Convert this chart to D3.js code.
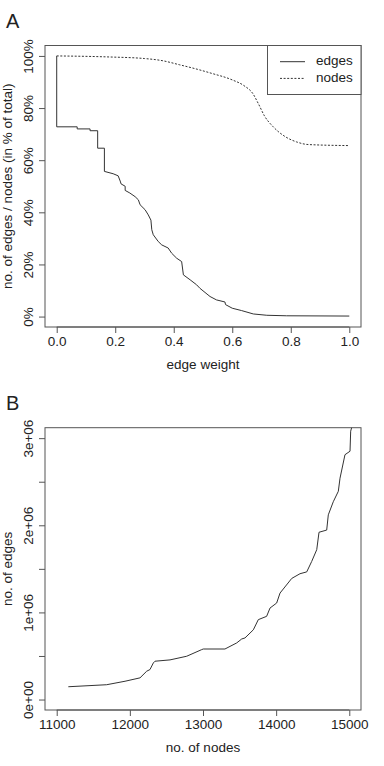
<!DOCTYPE html>
<html>
<head>
<meta charset="utf-8">
<script src="https://cdn.jsdelivr.net/npm/d3@7"></script>
<style>
  body { margin: 0; background: #fff; }
  text { font-family: "Liberation Sans", Arial, sans-serif; fill: #222; }
</style>
</head>
<body>
<div id="chart"></div>
<script>
// panel A: share of edges / nodes left after thresholding by edge weight
const edgeW = [0, 0, 0.07, 0.07, 0.114, 0.114, 0.14, 0.14, 0.163, 0.163, 0.193, 0.21, 0.217, 0.22, 0.234, 0.234,
  0.25, 0.268, 0.279, 0.285, 0.302, 0.313, 0.322, 0.325, 0.33, 0.347, 0.359, 0.381, 0.393, 0.41, 0.427, 0.433,
  0.456, 0.478, 0.49, 0.524, 0.546, 0.575, 0.577, 0.6, 0.632, 0.672, 0.718, 0.786, 1.0];
const edgePct = [100, 72.8, 72.8, 72.0, 72.0, 71.3, 71.3, 64.6, 64.6, 55.7, 54.8, 54.0, 52.0, 50.9, 50.0, 48.4,
  47.4, 46.0, 44.8, 42.9, 41.0, 39.0, 37.0, 33.3, 31.4, 28.8, 27.5, 26.3, 24.3, 22.4, 21.1, 16.0,
  14.1, 12.2, 10.8, 7.7, 6.4, 5.6, 4.6, 3.2, 2.3, 1.0, 0.5, 0.3, 0.2];
const nodeW = [0, 0.18, 0.3, 0.36, 0.42, 0.48, 0.53, 0.6, 0.64, 0.67, 0.69, 0.71, 0.74, 0.78, 0.82, 0.86, 1.0];
const nodePct = [100, 99.6, 99.0, 98.2, 96.6, 94.9, 93.3, 90.8, 88.6, 85.6, 81.5, 77.0, 72.8, 69.1, 67.0, 66.0, 65.6];
const pctTicks = [0, 20, 40, 60, 80, 100];
const wTicks = [0, 0.2, 0.4, 0.6, 0.8, 1.0];

// panel B: edges vs nodes
const bNodes = [11159, 11683, 11934, 12139, 12230, 12275, 12321, 12344, 12549, 12777, 12982, 13004, 13300,
  13461, 13529, 13574, 13688, 13756, 13870, 13916, 14007, 14053, 14213, 14326, 14418, 14486, 14555, 14586,
  14691, 14713, 14781, 14850, 14873, 14941, 15010, 15019, 15045];
const bEdges = [0.147, 0.17, 0.21, 0.249, 0.325, 0.344, 0.42, 0.44, 0.455, 0.497, 0.573, 0.58, 0.58,
  0.65, 0.695, 0.707, 0.8, 0.917, 0.955, 1.05, 1.108, 1.222, 1.39, 1.444, 1.465, 1.585, 1.72, 1.92,
  1.945, 2.12, 2.27, 2.39, 2.54, 2.81, 2.85, 3.08, 3.16].map(v => v * 1e6);
const nodeTicks = [11000, 12000, 13000, 14000, 15000];
const edgeTicks = [0, 5e5, 1e6, 1.5e6, 2e6, 2.5e6, 3e6];
const edgeLabels = ["0e+00", "", "1e+06", "", "2e+06", "", "3e+06"];

const W = 384, H = 766;
const svg = d3.select('#chart').append('svg').attr('width', W).attr('height', H);

const left = 45, right = 361;
const boxColor = '#555', lineColor = '#333';
const fs = 13.5;

// R-style 4% padding around data range
const pad = (lo, hi) => { const d = (hi - lo) * 0.04; return [lo - d, hi + d]; };

function panel(opts) {
  const g = svg.append('g');
  const x = d3.scaleLinear().domain(pad(...opts.xDom)).range([left, right]);
  const y = d3.scaleLinear().domain(pad(...opts.yDom)).range([opts.bottom, opts.top]);

  g.append('text').attr('x', 6).attr('y', opts.top - 18).attr('font-size', 20).text(opts.letter);

  g.append('rect').attr('x', left).attr('y', opts.top).attr('width', right - left)
    .attr('height', opts.bottom - opts.top).attr('fill', 'none').attr('stroke', boxColor);

  const xAxis = g.append('g').attr('transform', `translate(0,${opts.bottom})`)
    .call(d3.axisBottom(x).tickValues(opts.xTicks).tickSize(6).tickPadding(3).tickFormat(opts.xFmt));
  const yAxis = g.append('g').attr('transform', `translate(${left},0)`)
    .call(d3.axisLeft(y).tickValues(opts.yTicks).tickSize(6).tickPadding(3).tickFormat(opts.yFmt));
  [xAxis, yAxis].forEach(a => {
    a.select('.domain').remove();
    a.selectAll('line').attr('stroke', boxColor);
    a.selectAll('text').attr('font-size', fs).attr('fill', '#222').attr('font-family', '"Liberation Sans", Arial, sans-serif');
  });
  xAxis.append('line').attr('x1', x(opts.xTicks[0])).attr('x2', x(opts.xTicks[opts.xTicks.length - 1]))
    .attr('stroke', boxColor);
  yAxis.selectAll('.tick text')
    .attr('transform', 'rotate(-90)').attr('x', 0).attr('y', -16).attr('dy', null)
    .attr('text-anchor', 'middle').attr('dominant-baseline', 'middle');

  g.append('text').attr('x', (left + right) / 2).attr('y', opts.bottom + 42)
    .attr('text-anchor', 'middle').attr('font-size', fs).text(opts.xLabel);
  g.append('text').attr('transform', `translate(8,${(opts.top + opts.bottom) / 2}) rotate(-90)`)
    .attr('text-anchor', 'middle').attr('dominant-baseline', 'middle').attr('font-size', fs).text(opts.yLabel);

  const clipId = 'clip' + opts.letter;
  svg.append('clipPath').attr('id', clipId).append('rect')
    .attr('x', left).attr('y', opts.top).attr('width', right - left).attr('height', opts.bottom - opts.top);
  const plot = g.append('g').attr('clip-path', `url(#${clipId})`);
  return { x, y, g, plot };
}

// panel A
const A = panel({
  letter: 'A', top: 45.5, bottom: 327, xDom: [0, 1], yDom: [0, 100],
  xTicks: wTicks, yTicks: pctTicks, xFmt: d3.format('.1f'), yFmt: d => d + '%',
  xLabel: 'edge weight', yLabel: 'no. of edges / nodes (in % of total)'
});
const lineA = d3.line().x(d => A.x(d[0])).y(d => A.y(d[1]));
A.plot.append('path').datum(d3.zip(edgeW, edgePct)).attr('d', lineA)
  .attr('fill', 'none').attr('stroke', lineColor).attr('stroke-width', 1);
A.plot.append('path').datum(d3.zip(nodeW, nodePct)).attr('d', lineA.curve(d3.curveMonotoneX))
  .attr('fill', 'none').attr('stroke', lineColor).attr('stroke-width', 1).attr('stroke-dasharray', '2,1.6');

// legend
const leg = A.g.append('g');
leg.append('rect').attr('x', 267.5).attr('y', 45.5).attr('width', right - 267.5).attr('height', 49)
  .attr('fill', '#fff').attr('stroke', boxColor);
[['edges', null], ['nodes', '2,1.6']].forEach(([name, dash], i) => {
  const yy = 61.7 + i * 16.7;
  leg.append('line').attr('x1', 280).attr('x2', 305).attr('y1', yy).attr('y2', yy)
    .attr('stroke', lineColor).attr('stroke-dasharray', dash);
  leg.append('text').attr('x', 316).attr('y', yy).attr('dominant-baseline', 'middle')
    .attr('font-size', fs).text(name);
});

// panel B
const B = panel({
  letter: 'B', top: 427.7, bottom: 710, xDom: [11000, 15000], yDom: [0, 3e6],
  xTicks: nodeTicks, yTicks: edgeTicks, xFmt: d3.format('d'), yFmt: (d, i) => edgeLabels[i],
  xLabel: 'no. of nodes', yLabel: 'no. of edges'
});
const lineB = d3.line().x(d => B.x(d[0])).y(d => B.y(d[1]));
B.plot.append('path').datum(d3.zip(bNodes, bEdges)).attr('d', lineB)
  .attr('fill', 'none').attr('stroke', lineColor).attr('stroke-width', 1);
</script>
</body>
</html>
